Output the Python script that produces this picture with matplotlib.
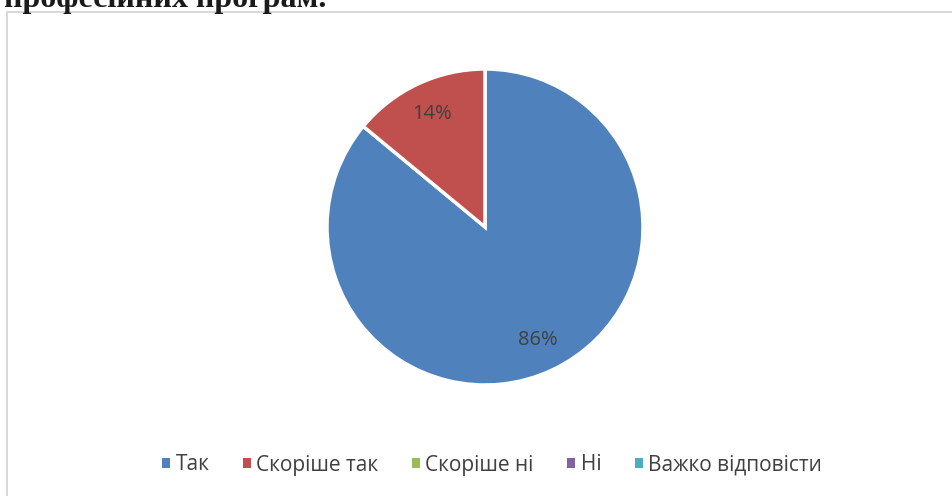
import matplotlib.pyplot as plt
from matplotlib.patches import Rectangle, Patch

categories = ['Так', 'Скоріше так', 'Скоріше ні', 'Ні', 'Важко відповісти']
values = [86, 14, 0, 0, 0]
colors = ['#4f81bd', '#c0504d', '#9bbb59', '#8064a2', '#4bacc6']
title_tail = 'професійних програм.'

plt.rcParams['font.family'] = ['Open Sans', 'DejaVu Sans']

fig = plt.figure(figsize=(9.53, 4.96), dpi=100)

# chart frame (light gray border, only top and left visible)
fig.patches.append(Rectangle((7 / 953, -0.02), 1.05, 1 - 12 / 496 + 0.02,
                             transform=fig.transFigure, fill=False,
                             edgecolor='#d9d9d9', linewidth=1.5))

# cut-off heading from document
fig.text(4 / 953, 1 - 7 / 496, title_tail, family='Liberation Serif',
         fontweight='bold', fontsize=23, color='#1a1a1a', va='baseline')

# pie: center (485, 227), radius ~158 px
r = 158
ax = fig.add_axes([(485 - r) / 953, 1 - (227 + r) / 496, 2 * r / 953, 2 * r / 496])
nz = [(v, c) for v, c in zip(values, colors) if v > 0]
wedges, texts, autotexts = ax.pie([v for v, c in nz], colors=[c for v, c in nz],
                                  startangle=90, counterclock=False,
                                  autopct='%1.0f%%', pctdistance=0.79,
                                  wedgeprops=dict(edgecolor='white', linewidth=2.5),
                                  textprops=dict(color='#404040', fontsize=14.5))
ax.set_xlim(-1, 1)
ax.set_ylim(-1, 1)
ax.set_aspect('equal')

handles = [Patch(facecolor=c, edgecolor='none') for c in colors]
fig.legend(handles, categories, loc='center', bbox_to_anchor=(492 / 953, 1 - 465 / 496),
           ncol=5, frameon=False, fontsize=15, labelcolor='#404040',
           handlelength=0.4, handleheight=0.4, handletextpad=0.25, columnspacing=1.6)

fig.savefig('out.png', dpi=100)
